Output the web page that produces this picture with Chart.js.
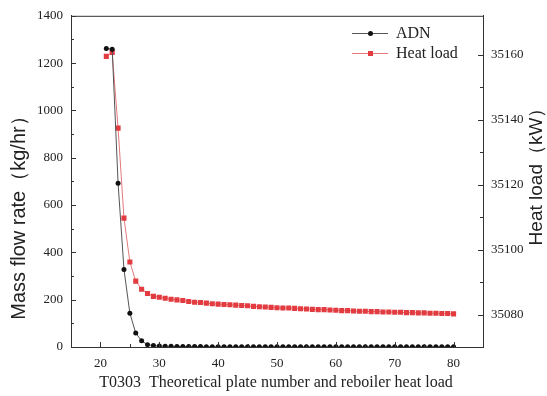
<!DOCTYPE html>
<html>
<head>
<meta charset="utf-8">
<script src="https://cdn.jsdelivr.net/npm/chart.js@4.4.0/dist/chart.umd.min.js"></script>
<style>
html, body { margin: 0; padding: 0; background: #fff; }
#wrap { width: 547px; height: 396px; position: relative; }
</style>
</head>
<body>
<div id="wrap"><canvas id="chart"></canvas></div>
<script>
// Data
const plates = [21, 22, 23, 24, 25, 26, 27, 28, 29, 30,
    31, 32, 33, 34, 35, 36, 37, 38, 39, 40,
    41, 42, 43, 44, 45, 46, 47, 48, 49, 50,
    51, 52, 53, 54, 55, 56, 57, 58, 59, 60,
    61, 62, 63, 64, 65, 66, 67, 68, 69, 70,
    71, 72, 73, 74, 75, 76, 77, 78, 79, 80];
const adn_flow = [1262, 1259, 692, 328, 143, 59, 26, 10, 6, 4,
    3, 3, 2, 2, 2, 2, 2, 1, 1, 1,
    1, 1, 1, 1, 1, 1, 1, 1, 1, 1,
    1, 1, 1, 1, 1, 1, 1, 1, 1, 1,
    1, 1, 1, 1, 1, 1, 1, 1, 1, 1,
    1, 1, 1, 1, 1, 1, 1, 1, 1, 1];
const heat_load = [35159.5, 35160.7, 35137.4, 35109.7, 35096.2, 35090.3, 35087.8, 35086.5, 35085.6, 35085.3,
    35085.0, 35084.7, 35084.5, 35084.3, 35084.0, 35083.8, 35083.7, 35083.5, 35083.3, 35083.2,
    35083.1, 35083.0, 35082.9, 35082.8, 35082.7, 35082.5, 35082.4, 35082.3, 35082.2, 35082.1,
    35082.0, 35082.0, 35081.9, 35081.8, 35081.7, 35081.6, 35081.5, 35081.5, 35081.4, 35081.3,
    35081.2, 35081.2, 35081.1, 35081.0, 35081.0, 35080.9, 35080.9, 35080.8, 35080.8, 35080.7,
    35080.7, 35080.6, 35080.6, 35080.5, 35080.5, 35080.4, 35080.4, 35080.3, 35080.3, 35080.2];
const x_ticks = [20, 30, 40, 50, 60, 70, 80];
const flow_ticks = [0, 200, 400, 600, 800, 1000, 1200, 1400];
const heat_ticks = [35080, 35100, 35120, 35140, 35160];
const series_names = ['ADN', 'Heat load'];

// Colors & fonts
const axis_color = '#333';
const text_color = '#222';
const adn_color = '#111';
const adn_line = '#555';
const heat_color = '#e23b40';
const heat_line = '#e47a7c';
const serif = "'Liberation Serif', 'Times New Roman', serif";
const sans = "'Liberation Sans', Arial, sans-serif";

const minors = ticks => ticks.slice(1).map((v, i) => (v + ticks[i]) / 2);

// Inward ticks, frame, titles and legend
const decorations = {
    id: 'decorations',
    afterDraw(chart) {
        const ctx = chart.ctx;
        const a = chart.chartArea;
        const sx = chart.scales.x, sy = chart.scales.y, sy2 = chart.scales.y2;
        ctx.save();
        ctx.strokeStyle = axis_color;
        ctx.lineWidth = 1;
        ctx.beginPath();
        // frame top
        ctx.moveTo(a.left, a.top + 0.5);
        ctx.lineTo(a.right, a.top + 0.5);
        const xmark = (v, len) => {
            const p = Math.round(sx.getPixelForValue(v)) + 0.5;
            ctx.moveTo(p, a.bottom); ctx.lineTo(p, a.bottom - len);
        };
        const ymark = (scale, v, len, right) => {
            const p = Math.round(scale.getPixelForValue(v)) + 0.5;
            if (p < a.top || p > a.bottom) return;
            if (right) { ctx.moveTo(a.right, p); ctx.lineTo(a.right - len, p); }
            else { ctx.moveTo(a.left, p); ctx.lineTo(a.left + len, p); }
        };
        x_ticks.forEach(v => xmark(v, 5));
        minors(x_ticks).forEach(v => xmark(v, 3));
        flow_ticks.forEach(v => ymark(sy, v, 5, false));
        minors(flow_ticks).forEach(v => ymark(sy, v, 3, false));
        heat_ticks.forEach(v => ymark(sy2, v, 5, true));
        minors(heat_ticks).forEach(v => ymark(sy2, v, 3, true));
        ctx.stroke();

        // axis titles
        ctx.fillStyle = text_color;
        ctx.textAlign = 'center';
        ctx.textBaseline = 'middle';
        ctx.font = '16px ' + serif;
        ctx.fillText('T0303  Theoretical plate number and reboiler heat load', 276, 383);
        ctx.font = '20px ' + sans;
        ctx.save();
        ctx.translate(19, 213);
        ctx.rotate(-Math.PI / 2);
        ctx.fillText('Mass flow rate（kg/hr）', 0, 0);
        ctx.restore();
        ctx.font = '19px ' + sans;
        ctx.save();
        ctx.translate(537, 172);
        ctx.rotate(-Math.PI / 2);
        ctx.fillText('Heat load（kW）', 0, 0);
        ctx.restore();

        // legend
        ctx.textAlign = 'left';
        ctx.font = '16px ' + serif;
        chart.data.datasets.forEach((ds, i) => {
            const ly = 33 + i * 20;
            ctx.strokeStyle = ds.borderColor;
            ctx.lineWidth = 1;
            ctx.beginPath();
            ctx.moveTo(352, ly + 0.5);
            ctx.lineTo(388, ly + 0.5);
            ctx.stroke();
            ctx.fillStyle = ds.pointBackgroundColor;
            if (ds.pointStyle === 'rect') ctx.fillRect(368, ly - 2, 5, 5);
            else { ctx.beginPath(); ctx.arc(370.5, ly + 0.5, 2.5, 0, Math.PI * 2); ctx.fill(); }
            ctx.fillStyle = text_color;
            ctx.fillText(ds.label, 396, ly + 1);
        });
        ctx.restore();
    }
};

const tick_font = { family: serif, size: 13 };
const plain = v => String(v);
const chart_canvas = document.getElementById('chart');
let chart = new Chart(chart_canvas, {
    type: 'line',
    data: {
        datasets: [
            {
                label: series_names[0],
                data: plates.map((p, i) => ({ x: p, y: adn_flow[i] })),
                yAxisID: 'y',
                borderColor: adn_line,
                borderWidth: 1,
                pointBackgroundColor: adn_color,
                pointBorderColor: adn_color,
                pointStyle: 'circle',
                pointRadius: 2.5,
                pointBorderWidth: 0,
            },
            {
                label: series_names[1],
                data: plates.map((p, i) => ({ x: p, y: heat_load[i] })),
                yAxisID: 'y2',
                borderColor: heat_line,
                borderWidth: 1,
                pointBackgroundColor: heat_color,
                pointBorderColor: heat_color,
                pointStyle: 'rect',
                pointRadius: 3.6,
                pointBorderWidth: 0,
            },
        ],
    },
    options: {
        animation: false,
        responsive: true,
        maintainAspectRatio: false,
        layout: { padding: { top: 15, left: 0, right: 0, bottom: 0 } },
        plugins: {
            legend: { display: false },
            title: { display: false },
            tooltip: { enabled: false },
        },
        scales: {
            x: {
                type: 'linear',
                min: 15,
                max: 85,
                afterBuildTicks: s => { s.ticks = x_ticks.map(v => ({ value: v })); },
                afterFit: s => { s.height = 49; },
                border: { color: axis_color, width: 1 },
                grid: { display: false, drawTicks: false },
                ticks: { font: tick_font, color: text_color, padding: 9, maxRotation: 0, callback: plain },
            },
            y: {
                position: 'left',
                min: 0,
                max: 1400,
                afterBuildTicks: s => { s.ticks = flow_ticks.map(v => ({ value: v })); },
                afterFit: s => { s.width = 71; },
                border: { color: axis_color, width: 1 },
                grid: { display: false, drawTicks: false },
                ticks: { font: tick_font, color: text_color, padding: 8, callback: plain },
            },
            y2: {
                position: 'right',
                min: 35070,
                max: 35172,
                afterBuildTicks: s => { s.ticks = heat_ticks.map(v => ({ value: v })); },
                afterFit: s => { s.width = 64; },
                border: { color: axis_color, width: 1 },
                grid: { display: false, drawTicks: false },
                ticks: { font: tick_font, color: text_color, padding: 8, callback: plain },
            },
        },
    },
    plugins: [decorations],
});
</script>
</body>
</html>
